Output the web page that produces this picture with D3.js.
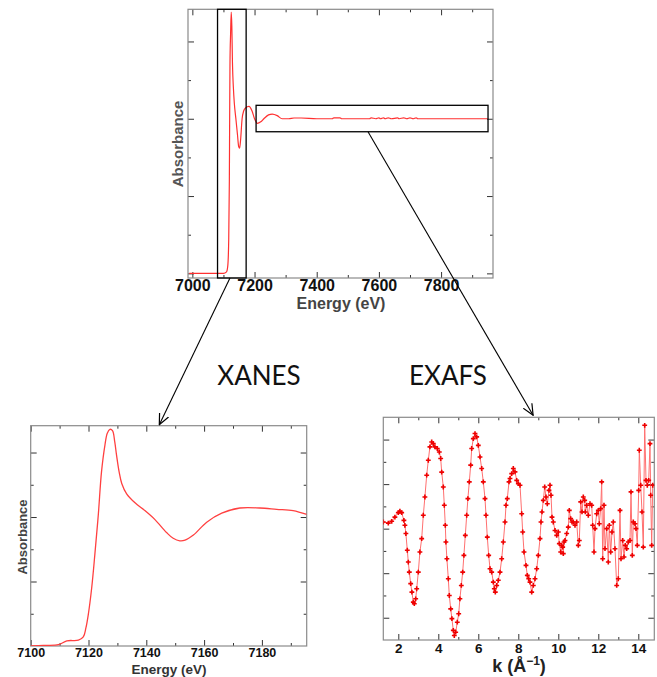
<!DOCTYPE html>
<html><head><meta charset="utf-8">
<script src="https://cdn.jsdelivr.net/npm/d3@7"></script>
<style>body{margin:0;background:#fff}svg{display:block}</style>
</head><body><svg id="c" width="657" height="677"></svg>
<script>
// ---------- DATA ----------
const topEnergy = [6990,7100,7110,7114,7117,7119,7120,7121,7123,7125,7127,7129,7132,7135,7140,7145,7149,7152,7155,7160,7165,7171,7182,7192,7200,7209,7220,7230,7245,7257,7273,7289,7310,7327,7350,7400,7450,7455,7475,7480,7570,7575,7590,7600,7605,7615,7620,7630,7640,7660,7665,7680,7690,7700,7710,7720,7725,7950];
const topAbs    = [0,0,0.01,0.05,0.22,0.6,1.0,1.35,1.55,1.69,1.6,1.36,1.2,1.1,1.0,0.9,0.82,0.81,0.86,1.0,1.05,1.07,1.08,1.05,1.0,0.97,0.98,1.0,1.025,1.03,1.02,1.0,1.0,1.005,1.005,1.0,1.0,1.006,1.006,1.0,1.0,1.006,1.0,1.006,1.0,1.006,1.0,1.006,1.0,1.006,1.0,1.006,1.0,1.006,1.0,1.006,1.0,1.0];

const xanesEnergy = [7100,7104.4,7109.6,7112.5,7116.5,7118.2,7119.1,7119.9,7121.1,7122.2,7123.4,7124.5,7125.7,7126.5,7127.4,7128.3,7129.1,7129.7,7130.6,7131.5,7133.2,7136.1,7139.5,7143,7147,7149.3,7151.6,7153.4,7156.3,7160.9,7166.1,7172.4,7179.3,7185.1,7190.8,7195.5];
const xanesAbs    = [0,0.005,0.01,0.04,0.045,0.07,0.14,0.24,0.45,0.71,1.02,1.35,1.56,1.65,1.68,1.67,1.58,1.48,1.35,1.26,1.18,1.11,1.05,0.98,0.88,0.835,0.815,0.82,0.86,0.96,1.03,1.07,1.07,1.06,1.05,1.02];

const exafsK = [1.25,1.5,1.67,1.83,2.0,2.08,2.17,2.28,2.33,2.38,2.45,2.5,2.55,2.62,2.68,2.75,2.8,2.87,2.92,3.0,3.08,3.17,3.25,3.33,3.42,3.5,3.58,3.67,3.75,3.83,3.95,4.05,4.12,4.17,4.25,4.3,4.35,4.38,4.43,4.5,4.55,4.62,4.68,4.75,4.8,4.87,4.95,5.02,5.08,5.15,5.22,5.28,5.35,5.42,5.48,5.55,5.62,5.67,5.75,5.835,5.92,6.0,6.085,6.17,6.25,6.335,6.385,6.45,6.52,6.585,6.67,6.75,6.8,6.85,6.92,7.0,7.085,7.17,7.25,7.335,7.385,7.45,7.535,7.585,7.67,7.75,7.835,7.92,8.0,8.085,8.17,8.22,8.285,8.385,8.45,8.52,8.585,8.67,8.75,8.835,8.92,9.0,9.085,9.135,9.185,9.25,9.32,9.385,9.45,9.535,9.585,9.635,9.685,9.75,9.835,9.92,10.0,10.05,10.12,10.17,10.22,10.25,10.285,10.335,10.42,10.5,10.55,10.62,10.685,10.75,10.835,10.92,11.0,11.05,11.12,11.185,11.25,11.32,11.35,11.42,11.5,11.585,11.67,11.72,11.785,11.835,11.92,12.0,12.05,12.12,12.17,12.22,12.285,12.335,12.42,12.5,12.55,12.62,12.685,12.75,12.835,12.92,13.0,13.085,13.135,13.22,13.285,13.35,13.42,13.5,13.585,13.635,13.7,13.75,13.835,13.885,13.95,14.02,14.05,14.12,14.185,14.25,14.32,14.385,14.45,14.52,14.585,14.62,14.67,14.72];
const exafsChi = [0.30,0.25,0.33,0.52,0.72,0.78,0.72,0.37,0.15,-0.22,-0.97,-1.50,-1.95,-2.47,-2.85,-3.30,-3.37,-3.15,-2.70,-1.95,-1.05,-0.45,0.60,1.42,2.40,3.07,3.67,3.89,3.82,3.67,3.60,3.44,3.15,2.54,1.87,1.05,0.15,-0.60,-1.35,-2.25,-3.00,-3.60,-4.04,-4.57,-4.80,-4.65,-4.20,-3.82,-3.15,-2.55,-1.95,-1.20,-0.30,0.60,1.35,2.10,2.85,3.60,4.04,4.27,4.12,3.74,3.22,2.70,2.10,1.35,0.60,-0.38,-1.20,-1.80,-1.95,-2.40,-2.70,-2.85,-2.55,-2.32,-1.95,-1.35,-0.60,0.30,1.05,1.35,2.10,2.25,2.47,2.70,2.55,2.17,2.02,1.95,0.67,-0.15,-1.05,-1.65,-2.10,-2.25,-2.40,-2.85,-2.55,-2.25,-1.80,-1.20,-0.45,0.30,0.75,1.27,1.87,1.42,1.12,1.72,1.95,1.50,0.52,0.30,-0.08,-0.30,-0.15,-0.67,-1.05,-0.75,-0.83,-1.12,-0.60,-0.53,-0.22,0.07,0.82,0.45,0.30,0.30,0.15,0.30,-0.75,-0.53,1.20,0.75,1.42,1.27,0.75,1.05,0.60,1.12,1.05,0.15,-1.05,0.00,0.67,0.82,0.22,0.90,2.10,-1.35,1.05,-0.90,0.00,-1.50,0.15,-1.05,-0.15,0.30,-0.90,-2.55,-2.25,0.82,-1.35,-0.53,-1.27,-0.75,-0.90,-0.60,-0.53,1.65,-1.20,0.30,0.22,0.00,-0.75,1.72,3.52,1.95,0.75,-0.83,4.64,2.17,1.95,2.17,3.82,1.50,-0.75,1.95];

// tick values
const topXMajor = [7000,7200,7400,7600,7800];
const topXMinor = [7100,7300,7500,7700,7900];
const topYMajor = [0,0.5,1.0,1.5];
const topYMinor = [0.25,0.75,1.25];
const xanesXMajor = [7100,7120,7140,7160,7180];
const xanesXMinor = [7110,7130,7150,7170,7190];
const xanesYMajor = [0.5,1.0,1.5];
const xanesYMinor = [0.25,0.75,1.25];
const exafsXMajor = [2,4,6,8,10,12,14];
const exafsXMinor = [3,5,7,9,11,13];
const exafsYMajor = [-4,-2,0,2,4];
const exafsYMinor = [-3,-1,1,3];

// ---------- DRAW ----------
const svg = d3.select('#c');
const FONT = '"Liberation Sans", Arial, sans-serif';
const defs = svg.append('defs');
defs.append('marker').attr('id','arr').attr('viewBox','0 -6 12 12')
  .attr('refX',11).attr('refY',0).attr('markerWidth',12).attr('markerHeight',12)
  .attr('markerUnits','userSpaceOnUse').attr('orient','auto')
  .append('path').attr('d','M0,-5L11,0L0,5').attr('fill','none').attr('stroke','#000').attr('stroke-width',1.2);

function panel(id, x, y, o) {
  const g = svg.append('g');
  const [x0,x1] = x.range(), [y0,y1] = y.range();
  defs.append('clipPath').attr('id','clip'+id).append('rect')
    .attr('x',x0).attr('y',y1).attr('width',x1-x0).attr('height',y0-y1);
  const mk = (fn, sc, vals, size, tr, labels) => {
    const a = fn(sc).tickValues(vals).tickSizeInner(-size).tickSizeOuter(0).tickPadding(o.pad);
    a.tickFormat(labels ? d3.format('d') : '');
    const ga = g.append('g').attr('transform', tr).call(a);
    ga.select('.domain').remove();
    ga.selectAll('line').attr('stroke','#333').attr('stroke-width',1);
    ga.selectAll('text').attr('font-family',FONT).attr('font-size',o.tickFont)
      .attr('font-weight','bold').attr('fill','#111');
  };
  mk(d3.axisBottom, x, o.xMajor, o.major, `translate(0,${y0})`, true);
  mk(d3.axisBottom, x, o.xMinor, o.minor, `translate(0,${y0})`, false);
  mk(d3.axisTop, x, o.xMajor, o.major, `translate(0,${y1})`, false);
  mk(d3.axisTop, x, o.xMinor, o.minor, `translate(0,${y1})`, false);
  mk(d3.axisLeft, y, o.yMajor, o.major, `translate(${x0},0)`, false);
  mk(d3.axisLeft, y, o.yMinor, o.minor, `translate(${x0},0)`, false);
  mk(d3.axisRight, y, o.yMajor, o.major, `translate(${x1},0)`, false);
  mk(d3.axisRight, y, o.yMinor, o.minor, `translate(${x1},0)`, false);
  g.append('rect').attr('x',x0).attr('y',y1).attr('width',x1-x0).attr('height',y0-y1)
    .attr('fill','none').attr('stroke','#8a8a8a').attr('stroke-width',1.2);
  const d = g.append('g').attr('clip-path',`url(#clip${id})`);
  return {g, d};
}

// top overview
const tx = d3.scaleLinear().domain([6986, 7967]).range([188, 493]);
const ty = d3.scaleLinear().domain([-0.03, 1.708]).range([278, 9.3]);
const P1 = panel('1', tx, ty, {xMajor:topXMajor,xMinor:topXMinor,yMajor:topYMajor,yMinor:topYMinor,major:6,minor:3,pad:2,tickFont:16});
P1.d.append('path').datum(d3.range(topEnergy.length))
  .attr('d', d3.line().x(i=>tx(topEnergy[i])).y(i=>ty(topAbs[i])).curve(d3.curveMonotoneX))
  .attr('fill','none').attr('stroke','#ff3030').attr('stroke-width',1.2);
P1.g.append('text').attr('transform',`translate(183,144) rotate(-90)`).attr('text-anchor','middle')
  .attr('font-family',FONT).attr('font-weight','bold').attr('font-size',15).attr('fill','#555').text('Absorbance');
P1.g.append('text').attr('x',341).attr('y',309).attr('text-anchor','middle')
  .attr('font-family',FONT).attr('font-weight','bold').attr('font-size',16).attr('fill','#444').text('Energy (eV)');

// XANES
const xx = d3.scaleLinear().domain([7100, 7195.5]).range([30.7, 306.7]);
const xy = d3.scaleLinear().domain([0, 1.708]).range([646, 425.7]);
const P2 = panel('2', xx, xy, {xMajor:xanesXMajor,xMinor:xanesXMinor,yMajor:xanesYMajor,yMinor:xanesYMinor,major:6,minor:3,pad:2,tickFont:12.5});
P2.d.append('path').datum(d3.range(xanesEnergy.length))
  .attr('d', d3.line().x(i=>xx(xanesEnergy[i])).y(i=>xy(xanesAbs[i])).curve(d3.curveCatmullRom.alpha(0.5)))
  .attr('fill','none').attr('stroke','#ff4040').attr('stroke-width',1.3);
P2.g.append('text').attr('transform',`translate(27,537) rotate(-90)`).attr('text-anchor','middle')
  .attr('font-family',FONT).attr('font-weight','bold').attr('font-size',13).attr('fill','#444').text('Absorbance');
P2.g.append('text').attr('x',169).attr('y',673.5).attr('text-anchor','middle')
  .attr('font-family',FONT).attr('font-weight','bold').attr('font-size',13.5).attr('fill','#333').text('Energy (eV)');

// EXAFS
const ex = d3.scaleLinear().domain([1.25, 14.8]).range([383.3, 654.3]);
const ey = d3.scaleLinear().domain([-5, 5]).range([640, 417.3]);
const P3 = panel('3', ex, ey, {xMajor:exafsXMajor,xMinor:exafsXMinor,yMajor:exafsYMajor,yMinor:exafsYMinor,major:6,minor:3,pad:3.5,tickFont:13.5});
const idx = d3.range(exafsK.length);
P3.d.append('path').datum(idx)
  .attr('d', d3.line().x(i=>ex(exafsK[i])).y(i=>ey(exafsChi[i])))
  .attr('fill','none').attr('stroke','#ff7070').attr('stroke-width',1);
P3.d.selectAll('path.pt').data(idx).join('path').attr('class','pt')
  .attr('transform', i=>`translate(${ex(exafsK[i])},${ey(exafsChi[i])})`)
  .attr('d', d3.symbol(d3.symbolCross).size(13)).attr('fill','#ee0000');
const kt = P3.g.append('text').attr('x',519).attr('y',672).attr('text-anchor','middle')
  .attr('font-family',FONT).attr('font-weight','bold').attr('font-size',18).attr('fill','#222');
kt.append('tspan').text('k (Å');
kt.append('tspan').attr('font-size',12).attr('dy',-7).text('−1');
kt.append('tspan').attr('dy',7).text(')');

// ---------- ANNOTATIONS ----------
const ann = svg.append('g');
ann.append('rect').attr('x',tx(7081)).attr('y',ty(1.708)).attr('width',tx(7173)-tx(7081)).attr('height',ty(-0.03)-ty(1.708))
  .attr('fill','none').attr('stroke','#000').attr('stroke-width',1.3);
ann.append('rect').attr('x',tx(7205)).attr('y',ty(1.087)).attr('width',tx(7951)-tx(7205)).attr('height',ty(0.916)-ty(1.087))
  .attr('fill','none').attr('stroke','#000').attr('stroke-width',1.3);
ann.append('line').attr('x1',tx(7121)).attr('y1',ty(-0.03)).attr('x2',xx(7144.5)).attr('y2',xy(1.708)-1)
  .attr('stroke','#000').attr('stroke-width',1.1).attr('marker-end','url(#arr)');
ann.append('line').attr('x1',tx(7565)).attr('y1',ty(0.916)).attr('x2',ex(8.74)).attr('y2',ey(5)-2)
  .attr('stroke','#000').attr('stroke-width',1.1).attr('marker-end','url(#arr)');
ann.append('text').attr('x',259).attr('y',385).attr('text-anchor','middle')
  .attr('font-family','Lato, "Open Sans", sans-serif').attr('font-size',26).attr('fill','#111').text('XANES');
ann.append('text').attr('x',448).attr('y',385).attr('text-anchor','middle')
  .attr('font-family','Lato, "Open Sans", sans-serif').attr('font-size',26).attr('fill','#111').text('EXAFS');
</script></body></html>
